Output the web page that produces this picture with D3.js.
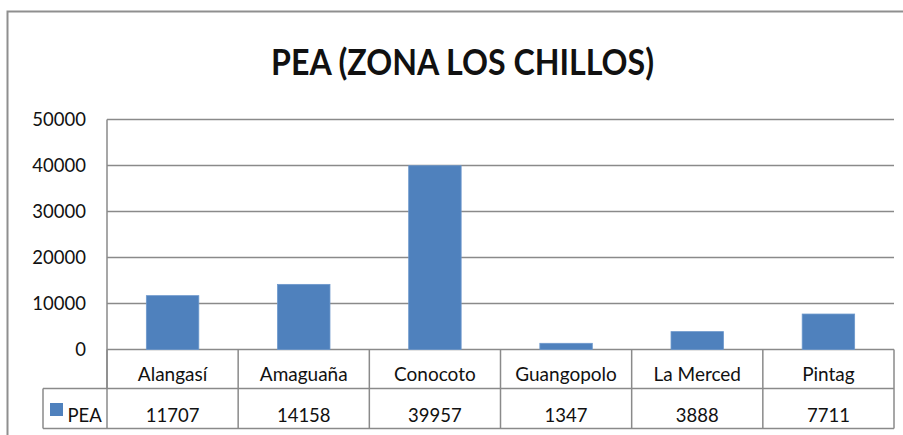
<!DOCTYPE html>
<html>
<head>
<meta charset="utf-8">
<script src="https://cdn.jsdelivr.net/npm/d3@7"></script>
<style>
  html, body { margin: 0; padding: 0; background: #fff; }
  svg { display: block; }
  text { font-family: Lato, "Open Sans", sans-serif; fill: #111; }
</style>
</head>
<body>
<svg id="chart" width="903" height="435"></svg>
<script>
// PEA per parroquia, Zona Los Chillos
const categories = ["Alangasí", "Amaguaña", "Conocoto", "Guangopolo", "La Merced", "Pintag"];
const seriesName = "PEA";
const peaValues = [11707, 14158, 39957, 1347, 3888, 7711];
const yTicks = [0, 10000, 20000, 30000, 40000, 50000];
const titleText = "PEA (ZONA LOS CHILLOS)";

const W = 903, H = 435;
const plot = { left: 107, right: 894, top: 119.5, bottom: 349.5 };
const table = { legendLeft: 43, row1Bottom: 388.5, row2Bottom: 428.5 };
const gridColor = "#8a8a8a";
const barColor = "#4f81bd";

const svg = d3.select("#chart");

// outer chart frame
svg.append("path")
  .attr("d", `M7.5,${H} V11.5 H${W}`)
  .attr("fill", "none")
  .attr("stroke", "#8f8f8f")
  .attr("stroke-width", 2);

// title
svg.append("text")
  .attr("x", 462.5)
  .attr("y", 75)
  .attr("text-anchor", "middle")
  .attr("font-weight", 700)
  .attr("font-size", 37)
  .attr("textLength", 383)
  .attr("lengthAdjust", "spacingAndGlyphs")
  .text(titleText);

const x = d3.scaleBand()
  .domain(categories)
  .range([plot.left, plot.right])
  .paddingInner(0.6)
  .paddingOuter(0.3);

const y = d3.scaleLinear()
  .domain([0, 50000])
  .range([plot.bottom, plot.top]);

// horizontal gridlines
svg.append("g")
  .selectAll("line")
  .data(yTicks)
  .join("line")
  .attr("x1", plot.left)
  .attr("x2", plot.right)
  .attr("y1", d => y(d))
  .attr("y2", d => y(d))
  .attr("stroke", gridColor)
  .attr("stroke-width", 1.5);

// y axis line
svg.append("line")
  .attr("x1", plot.left).attr("x2", plot.left)
  .attr("y1", plot.top).attr("y2", table.row1Bottom)
  .attr("stroke", gridColor)
  .attr("stroke-width", 1.5);

// y axis labels
svg.append("g")
  .selectAll("text")
  .data(yTicks)
  .join("text")
  .attr("x", 86)
  .attr("y", d => y(d))
  .attr("dy", "0.36em")
  .attr("text-anchor", "end")
  .attr("font-size", 18.5)
  .text(d => d);

// bars
svg.append("g")
  .selectAll("rect")
  .data(peaValues)
  .join("rect")
  .attr("x", (d, i) => x(categories[i]))
  .attr("width", x.bandwidth())
  .attr("y", d => y(d))
  .attr("height", d => y(0) - y(d))
  .attr("fill", barColor)
  .attr("stroke", "#6d98cc")
  .attr("stroke-width", 0.8);

// data table
const step = x.step();
const bounds = categories.map((c, i) => plot.left + i * step).concat([plot.right]);

const tg = svg.append("g")
  .attr("stroke", gridColor)
  .attr("stroke-width", 1.5);

// category column separators
tg.selectAll("line.sep1")
  .data(bounds)
  .join("line")
  .attr("class", "sep1")
  .attr("x1", d => d).attr("x2", d => d)
  .attr("y1", plot.bottom).attr("y2", table.row2Bottom);

// legend column left edge
tg.append("line")
  .attr("x1", table.legendLeft).attr("x2", table.legendLeft)
  .attr("y1", table.row1Bottom).attr("y2", table.row2Bottom);

// row lines
tg.selectAll("line.row")
  .data([table.row1Bottom, table.row2Bottom])
  .join("line")
  .attr("class", "row")
  .attr("x1", table.legendLeft).attr("x2", plot.right)
  .attr("y1", d => d).attr("y2", d => d);

// category labels
svg.append("g")
  .selectAll("text")
  .data(categories)
  .join("text")
  .attr("x", d => x(d) + x.bandwidth() / 2)
  .attr("y", 380.5)
  .attr("text-anchor", "middle")
  .attr("font-size", 19)
  .text(d => d);

// value labels
svg.append("g")
  .selectAll("text")
  .data(peaValues)
  .join("text")
  .attr("x", (d, i) => x(categories[i]) + x.bandwidth() / 2)
  .attr("y", 421.5)
  .attr("text-anchor", "middle")
  .attr("font-size", 18.5)
  .text(d => d);

// legend key
svg.append("rect")
  .attr("x", 50).attr("y", 403)
  .attr("width", 13).attr("height", 13)
  .attr("fill", barColor);

svg.append("text")
  .attr("x", 67.5)
  .attr("y", 421.5)
  .attr("font-size", 18.5)
  .text(seriesName);
</script>
</body>
</html>
